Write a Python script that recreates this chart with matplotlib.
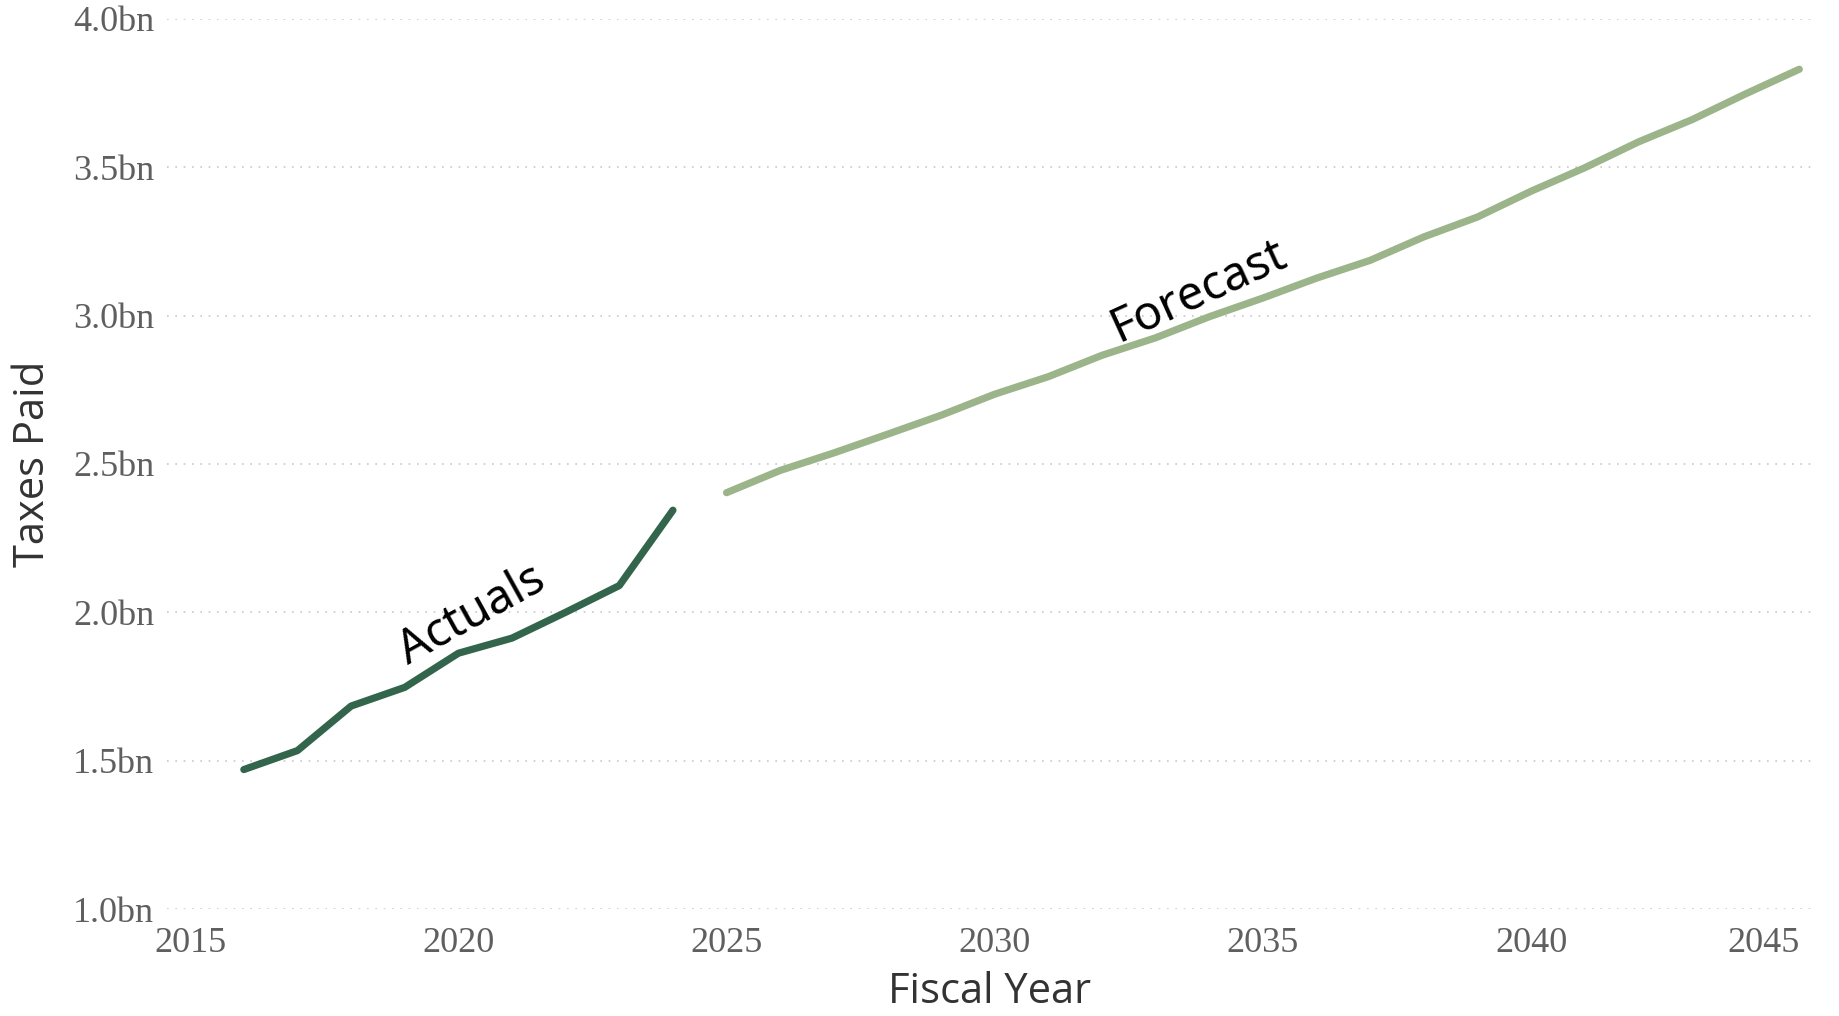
import matplotlib
matplotlib.use("Agg")
import matplotlib.pyplot as plt
import matplotlib.ticker as mticker

# Данные (в млрд)
actual_years = [2016, 2017, 2018, 2019, 2020, 2021, 2022, 2023, 2024]
actual_taxes = [1.47, 1.534, 1.684, 1.747, 1.862, 1.913, 2.0, 2.09, 2.344]

forecast_years = list(range(2025, 2046))
forecast_taxes = [2.403, 2.478, 2.537, 2.60, 2.664, 2.735, 2.794, 2.866, 2.925, 2.996,
                  3.059, 3.126, 3.186, 3.265, 3.332, 3.419, 3.498, 3.585, 3.660, 3.747, 3.830]

x_ticks = [2015, 2020, 2025, 2030, 2035, 2040, 2045]
y_ticks = [1.0, 1.5, 2.0, 2.5, 3.0, 3.5, 4.0]

fig = plt.figure(figsize=(18.39, 10.16), dpi=100)
ax = fig.add_axes([0.0906, 0.1053, 0.8948, 0.8762])

ax.plot(actual_years, actual_taxes, color='#33654d', linewidth=5.2, solid_capstyle='round')
ax.plot(forecast_years, forecast_taxes, color='#9cb48a', linewidth=5.2, solid_capstyle='round')

ax.set_xlim(2014.56, 2045.24)
ax.set_ylim(1.0, 4.0)
ax.set_xticks(x_ticks)
ax.set_yticks(y_ticks)
ax.yaxis.set_major_formatter(mticker.FuncFormatter(lambda v, p: f"{v:.1f}bn"))

ax.grid(axis='y', linestyle=(0, (1, 4)), color='#c8c8c8', linewidth=1.2)
ax.grid(axis='x', visible=False)
for s in ax.spines.values():
    s.set_visible(False)
ax.tick_params(length=0, labelsize=26, labelcolor='#5f5f5f')
ax.tick_params(axis='y', pad=9)
ax.tick_params(axis='x', pad=13)
for lab in ax.get_xticklabels() + ax.get_yticklabels():
    lab.set_fontfamily('Liberation Serif')
ax.get_xticklabels()[-1].set_horizontalalignment('right')

ax.set_xlabel("Fiscal Year", fontsize=30, color='#333333', family='Open Sans', labelpad=8)
ax.set_ylabel("Taxes Paid", fontsize=30, color='#333333', family='Open Sans', labelpad=14)

ax.text(2020.25, 1.99, "Actuals", rotation=29, fontsize=34, family='Noto Sans',
        ha='center', va='center', rotation_mode='anchor')
ax.text(2033.8, 3.08, "Forecast", rotation=24.5, fontsize=34, family='Noto Sans',
        ha='center', va='center', rotation_mode='anchor')

fig.savefig("out.png", dpi=100)
